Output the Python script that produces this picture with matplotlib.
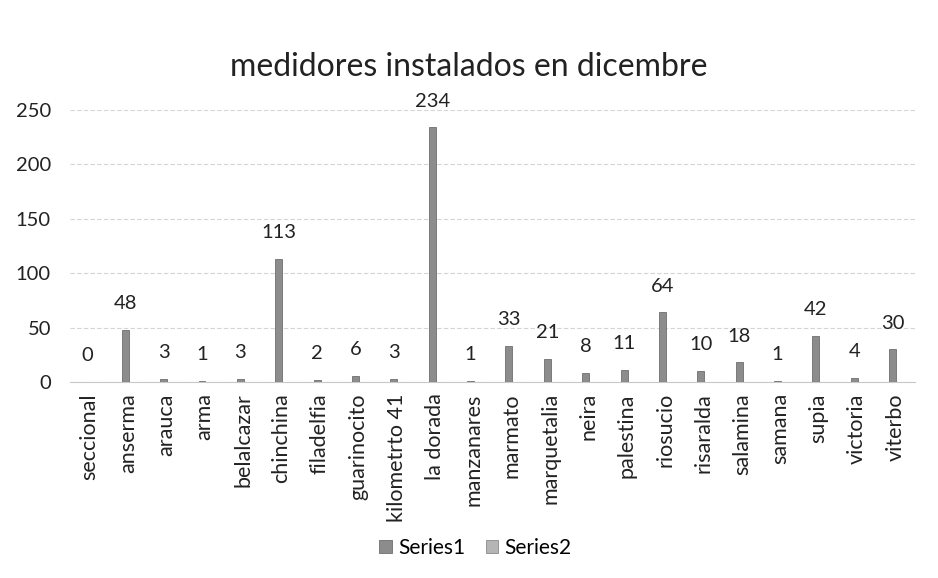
import matplotlib.pyplot as plt
import numpy as np

plt.rcParams['font.family'] = ['Lato', 'DejaVu Sans']

categories = ['seccional', 'anserma', 'arauca', 'arma', 'belalcazar', 'chinchina',
              'filadelfia', 'guarinocito', 'kilometrto 41', 'la dorada', 'manzanares',
              'marmato', 'marquetalia', 'neira', 'palestina', 'riosucio', 'risaralda',
              'salamina', 'samana', 'supia', 'victoria', 'viterbo']
series1 = [0, 48, 3, 1, 3, 113, 2, 6, 3, 234, 1, 33, 21, 8, 11, 64, 10, 18, 1, 42, 4, 30]
series2 = [0] * len(categories)

fig = plt.figure(figsize=(9.38, 5.78), dpi=100)
ax = fig.add_axes([0.075, 0.339, 0.90, 0.4706])

x = np.arange(len(categories))
w = 0.18
ax.bar(x - 0.07, series1, width=w, color='#8c8c8c', edgecolor='#6e6e6e',
       linewidth=0.6, label='Series1', zorder=3)
ax.bar(x + 0.11, series2, width=w, color='#b5b5b5', edgecolor='#8a8a8a',
       linewidth=0.6, label='Series2', zorder=3)

for xi, v in zip(x, series1):
    ax.annotate(str(v), (xi - 0.07, v), xytext=(0, 19), textcoords='offset points',
                ha='center', va='center', fontsize=14.5, color='#222222')

ax.set_xlim(-0.5, len(categories) - 0.5)
ax.set_ylim(0, 250)
ax.set_yticks(range(0, 251, 50))
ax.yaxis.grid(True, color='#d4d4d4', linewidth=0.8, linestyle=(0, (4, 2)), zorder=0)
for s in ['top', 'right', 'left']:
    ax.spines[s].set_visible(False)
ax.spines['bottom'].set_color('#c8c8c8')
ax.tick_params(axis='both', length=0, colors='#222222')
ax.tick_params(axis='y', labelsize=14.5, pad=14)
ax.tick_params(axis='x', pad=8)
ax.set_xticks(x)
ax.set_xticklabels(categories, rotation=90, fontsize=15.5)

fig.suptitle('medidores instalados en dicembre', y=0.91, fontsize=23, color='#222222')

ax.legend(loc='center', bbox_to_anchor=(0.48, -0.61), ncol=2, frameon=False,
          fontsize=15, handlelength=0.6, handleheight=0.6, columnspacing=1.0,
          handletextpad=0.3)

fig.savefig('out.png', dpi=100, facecolor='white')
